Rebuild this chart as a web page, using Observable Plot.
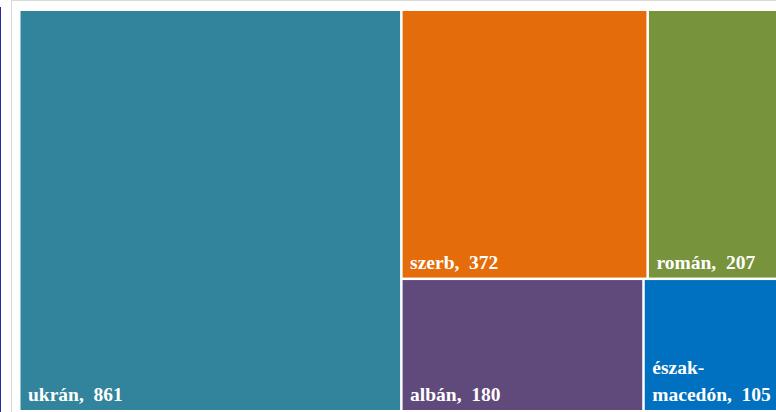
<!DOCTYPE html>
<html><head><meta charset="utf-8">
<script src="https://cdn.jsdelivr.net/npm/d3@7"></script>
<script src="https://cdn.jsdelivr.net/npm/@observablehq/plot@0.6"></script>
<style>
html,body{margin:0;padding:0;overflow:hidden;background:#fff;width:776px;height:412px}
#wrap{position:relative;width:776px;height:412px;overflow:hidden}
#chart svg{display:block}
.line-blue{position:absolute;left:0;top:7px;width:1px;height:405px;background:#2a2aa6}
.frame-v{position:absolute;left:11px;top:0;width:1px;height:412px;background:#d9d9d9}
.frame-h{position:absolute;left:11px;top:0;width:765px;height:1px;background:#d9d9d9}
</style></head><body>
<div id="wrap"><div id="chart"></div><div class="line-blue"></div><div class="frame-v"></div><div class="frame-h"></div></div>
<script>
const categories = ["ukrán", "szerb", "román", "albán", "észak-macedón"];
const values = [861, 372, 207, 180, 105];
const colors = ["#31849B", "#E46C0A", "#77933C", "#604A7B", "#0070C0"];

const W = 763, H = 399;
const root = d3.hierarchy({children: categories.map((name, i) => ({name, value: values[i], color: colors[i]}))})
  .sum(d => d.value || 0)
  .sort((a, b) => b.value - a.value);
d3.treemap().size([W, H]).paddingInner(2.5).tile(d3.treemapSquarify.ratio(1))(root);

const cells = root.leaves().map(l => ({
  x0: l.x0, x1: l.x1, y0: l.y0, y1: l.y1,
  name: l.data.name, value: l.data.value, color: l.data.color,
  label: (l.data.name.includes("-") ? l.data.name.replace("-", "-\n") : l.data.name) + ",\u00a0\u00a0" + l.data.value
}));

const chart = Plot.plot({
  width: 776,
  height: 412,
  margin: 0,
  x: {domain: [0, W], range: [20.5, 20.5 + W], axis: null},
  y: {domain: [0, H], range: [11, 11 + H], axis: null},
  style: {background: "white"},
  marks: [
    Plot.rect(cells, {x1: "x0", x2: "x1", y1: "y0", y2: "y1", fill: "color"}),
    Plot.text(cells, {
      x: "x0", y: "y1", text: "label",
      textAnchor: "start", lineAnchor: "bottom",
      dx: 7, dy: -9.5,
      fill: "white", fontSize: 19.5, fontWeight: "bold",
      fontFamily: "'Liberation Serif', 'Times New Roman', serif",
      lineHeight: 1.4
    })
  ]
});
document.getElementById("chart").appendChild(chart);
</script>
</body></html>
